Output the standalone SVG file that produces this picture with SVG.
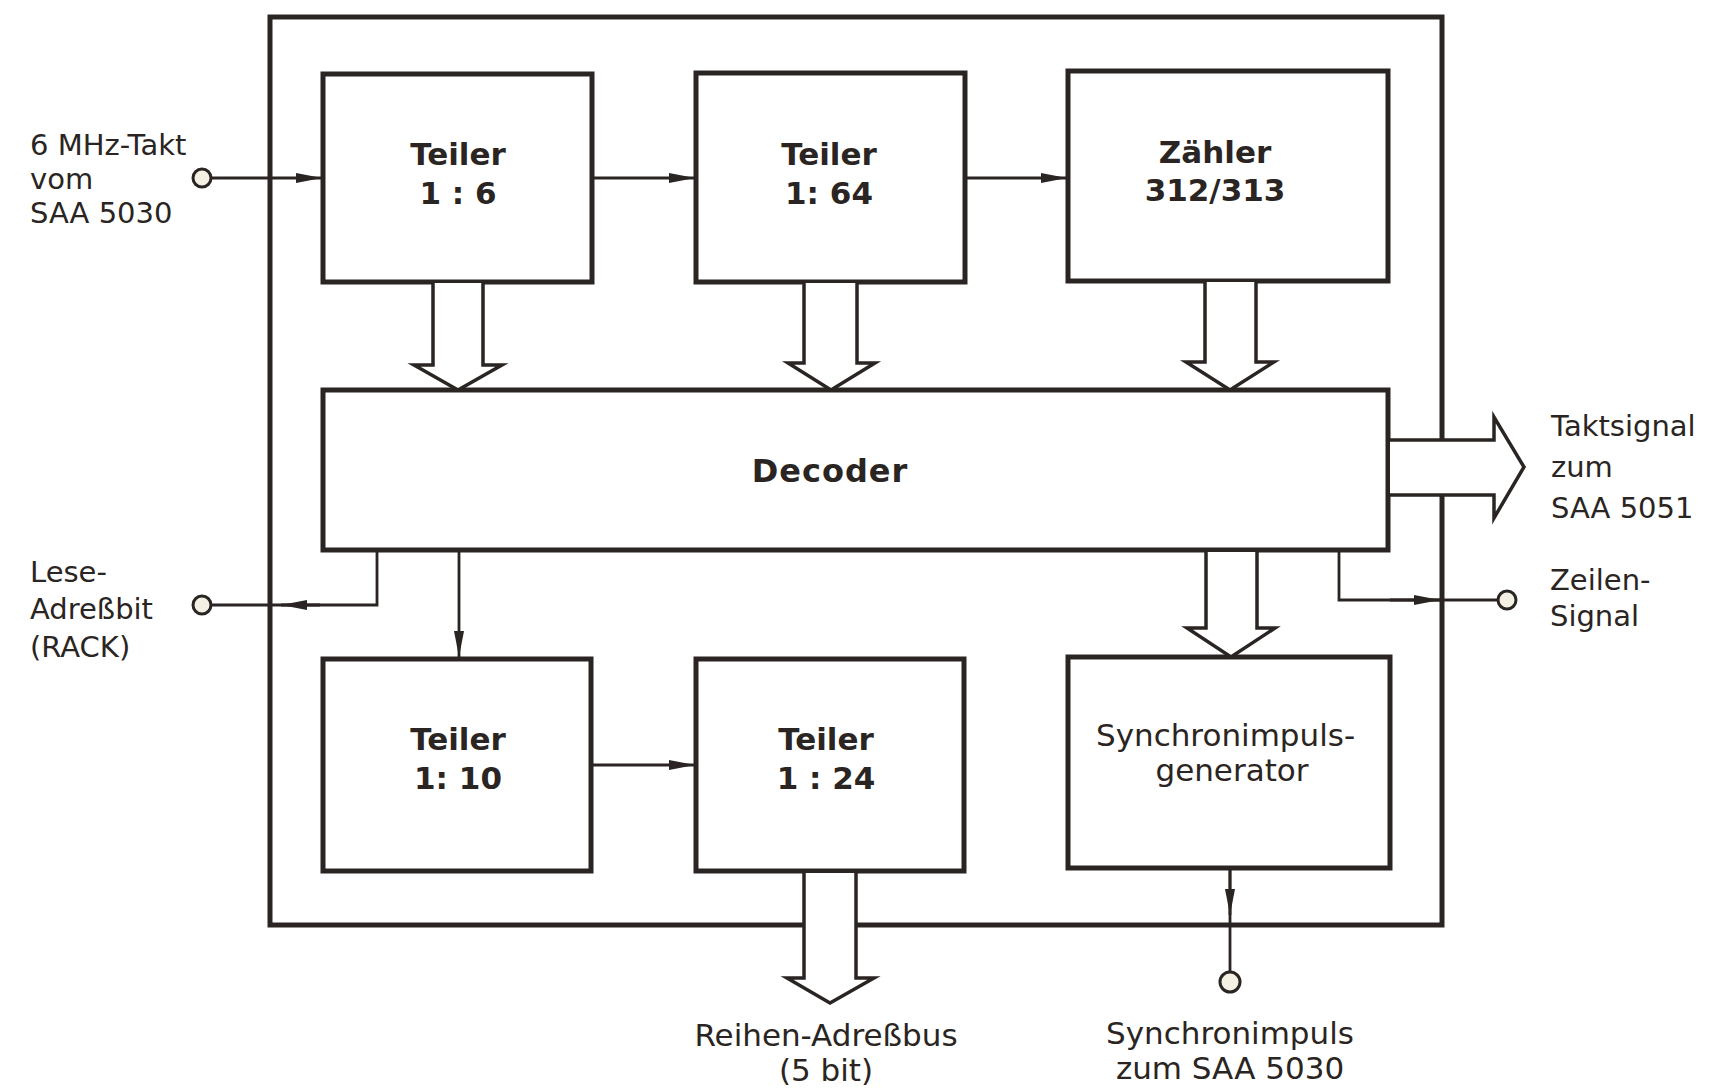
<svg xmlns="http://www.w3.org/2000/svg" width="1730" height="1092" viewBox="0 0 1730 1092">
<defs>
<marker id="ah" markerUnits="userSpaceOnUse" markerWidth="26" markerHeight="14" viewBox="0 0 26 14" refX="26" refY="7" orient="auto">
<path d="M0,2 L26,7 L0,12 Z" fill="#2a2522"/>
</marker>
<style>
.box{fill:#fff;stroke:#2a2522;stroke-width:5}
.frame{fill:none;stroke:#2a2522;stroke-width:5}
.wire{fill:none;stroke:#2a2522;stroke-width:2.8}
.bus{fill:#fff;stroke:#2a2522;stroke-width:3.5;stroke-linejoin:miter}
.term{fill:#f4f0e4;stroke:#2a2522;stroke-width:3}
.lbl{font-family:"DejaVu Sans",sans-serif;font-weight:bold;font-size:31px;fill:#2a2522;text-anchor:middle}
.ext{font-family:"DejaVu Sans",sans-serif;font-size:29px;fill:#2a2522}
</style>
</defs>
<rect width="1730" height="1092" fill="#fff"/>
<rect id="frame" class="frame" x="270" y="17" width="1172" height="908"/>

<g id="teiler6"><rect class="box" x="323" y="74" width="269" height="208"/>
<text class="lbl" x="458" y="165">Teiler</text><text class="lbl" x="458" y="204">1 : 6</text></g>
<g id="teiler64"><rect class="box" x="696" y="73" width="269" height="209"/>
<text class="lbl" x="829" y="165">Teiler</text><text class="lbl" x="829" y="204">1: 64</text></g>
<g id="zaehler"><rect class="box" x="1068" y="71" width="320" height="210"/>
<text class="lbl" x="1215" y="163">Zähler</text><text class="lbl" x="1215" y="201">312/313</text></g>
<g id="decoder"><rect class="box" x="323" y="390" width="1065" height="160"/>
<text class="lbl" x="830" y="482" style="font-size:32px;letter-spacing:1px">Decoder</text></g>
<g id="teiler10"><rect class="box" x="323" y="659" width="268" height="212"/>
<text class="lbl" x="458" y="750">Teiler</text><text class="lbl" x="458" y="789">1: 10</text></g>
<g id="teiler24"><rect class="box" x="696" y="659" width="268" height="212"/>
<text class="lbl" x="826" y="750">Teiler</text><text class="lbl" x="826" y="789">1 : 24</text></g>
<g id="sync"><rect class="box" x="1068" y="657" width="322" height="211"/>
<text class="ext" x="1096" y="746" style="font-size:31px">Synchronimpuls-</text><text class="ext" x="1232" y="781" text-anchor="middle" style="font-size:31px">generator</text></g>

<g id="connectors">
<line class="wire" x1="211" y1="178" x2="322" y2="178" marker-end="url(#ah)"/>
<line class="wire" x1="594" y1="178" x2="695" y2="178" marker-end="url(#ah)"/>
<line class="wire" x1="967" y1="178" x2="1067" y2="178" marker-end="url(#ah)"/>
<path class="bus" d="M433,283 V365 H414 L458,390 L502,365 H483 V283"/>
<path class="bus" d="M804,283 V363 H788 L831,390 L875,363 H857 V283"/>
<path class="bus" d="M1205,282 V362 H1186 L1230,390 L1274,362 H1256 V282"/>
<path class="bus" d="M1390,440 H1494 V417 L1524,467 L1494,518 V495 H1390"/>
<path class="bus" d="M1206,552 V628 H1187 L1231,657 L1275,628 H1257 V552"/>
<path class="bus" d="M804,873 V978 H787 L830,1003 L874,978 H856 V873"/>
<polyline class="wire" points="377,552 377,605 211,605"/>
<line class="wire" x1="320" y1="605" x2="281" y2="605" marker-end="url(#ah)"/>
<line class="wire" x1="459" y1="552" x2="459" y2="657" marker-end="url(#ah)"/>
<polyline class="wire" points="1339,552 1339,600 1498,600"/>
<line class="wire" x1="1390" y1="600" x2="1440" y2="600" marker-end="url(#ah)"/>
<line class="wire" x1="593" y1="765" x2="695" y2="765" marker-end="url(#ah)"/>
<line class="wire" x1="1230" y1="870" x2="1230" y2="972"/>
<line class="wire" x1="1230" y1="870" x2="1230" y2="915" marker-end="url(#ah)"/>
<circle class="term" cx="202" cy="178" r="9"/>
<circle class="term" cx="202" cy="605" r="9"/>
<circle class="term" cx="1507" cy="600" r="9"/>
<circle class="term" cx="1230" cy="982" r="10"/>
</g>

<g id="labels">
<text class="ext" x="30" y="155">6 MHz-Takt</text>
<text class="ext" x="30" y="189">vom</text>
<text class="ext" x="30" y="223">SAA 5030</text>
<text class="ext" x="30" y="582">Lese-</text>
<text class="ext" x="30" y="619">Adreßbit</text>
<text class="ext" x="30" y="657">(RACK)</text>
<text class="ext" x="1551" y="436">Taktsignal</text>
<text class="ext" x="1551" y="477">zum</text>
<text class="ext" x="1551" y="518">SAA 5051</text>
<text class="ext" x="1550" y="590">Zeilen-</text>
<text class="ext" x="1550" y="626">Signal</text>
<text class="ext" x="826" y="1046" text-anchor="middle" style="font-size:31px">Reihen-Adreßbus</text>
<text class="ext" x="826" y="1081" text-anchor="middle" style="font-size:31px">(5 bit)</text>
<text class="ext" x="1230" y="1044" text-anchor="middle" style="font-size:31px">Synchronimpuls</text>
<text class="ext" x="1230" y="1079" text-anchor="middle" style="font-size:31px">zum SAA 5030</text>
</g>
</svg>
